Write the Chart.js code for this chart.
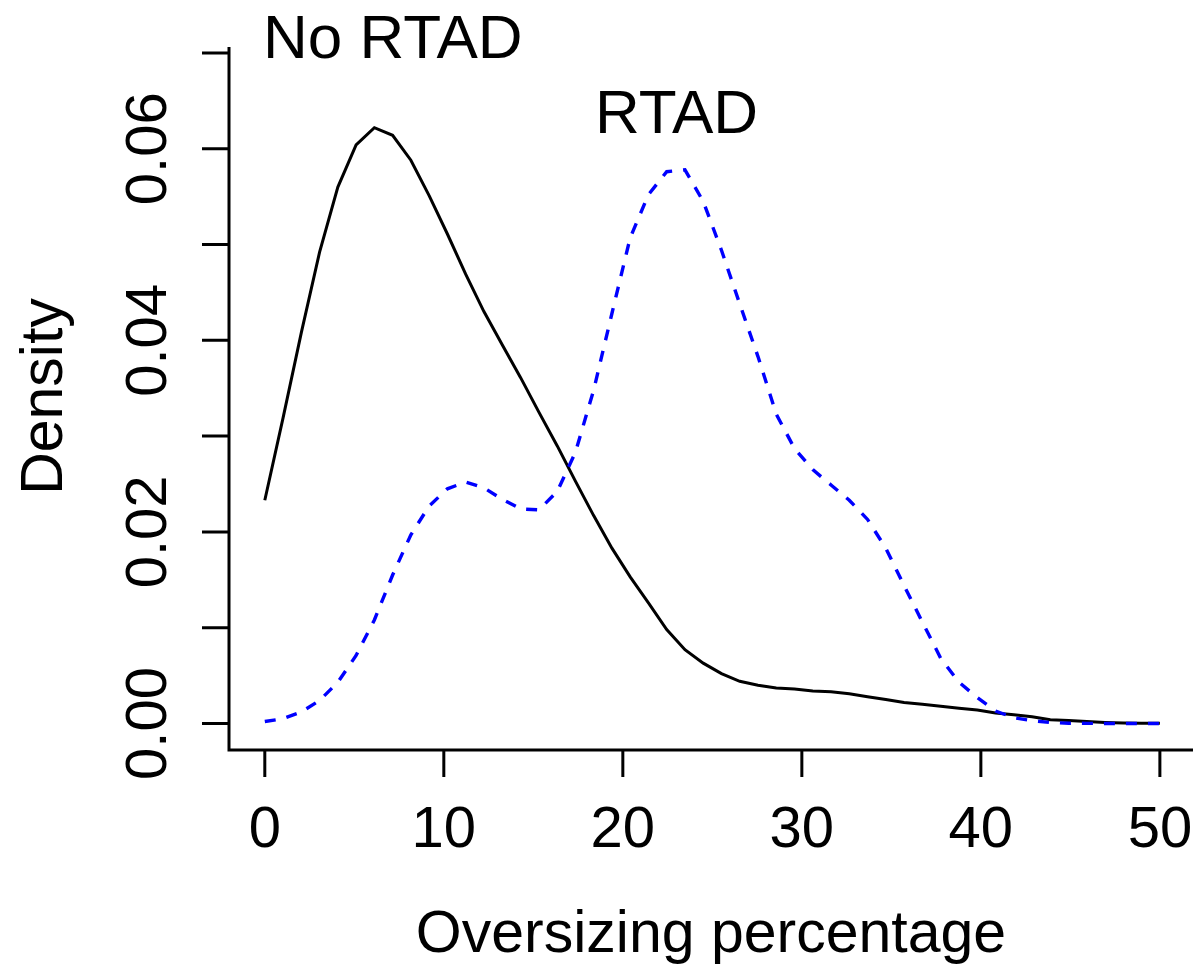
<!DOCTYPE html>
<html>
<head>
<meta charset="utf-8">
<script src="https://cdn.jsdelivr.net/npm/chart.js@4.4.1/dist/chart.umd.min.js"></script>
<style>
    html, body { margin: 0; padding: 0; background: #fff; }
    #wrap { width: 1193px; height: 966px; }
</style>
</head>
<body>
<div id="wrap"><canvas id="densityChart" width="1193" height="966"></canvas></div>
<script>
// Density grid (oversizing percentage)
const gridX = [0, 1.02, 2.04, 3.06, 4.08, 5.10, 6.12, 7.14, 8.16, 9.18,
    10.20, 11.22, 12.24, 13.27, 14.29, 15.31, 16.33, 17.35, 18.37, 19.39,
    20.41, 21.43, 22.45, 23.47, 24.49, 25.51, 26.53, 27.55, 28.57, 29.59,
    30.61, 31.63, 32.65, 33.67, 34.69, 35.71, 36.73, 37.76, 38.78, 39.80,
    40.82, 41.84, 42.86, 43.88, 44.90, 45.92, 46.94, 47.96, 48.98, 50];

const noRtadDensity = [0.0233, 0.0319, 0.0408, 0.0492, 0.0560, 0.0604, 0.0622, 0.0614, 0.0588, 0.0551,
    0.0511, 0.0469, 0.0430, 0.0395, 0.0361, 0.0325, 0.0290, 0.0253, 0.0217, 0.0183,
    0.0153, 0.0126, 0.0098, 0.0077, 0.0063, 0.0052, 0.0044, 0.0040, 0.0037, 0.0036,
    0.0034, 0.0033, 0.0031, 0.0028, 0.0025, 0.0022, 0.0020, 0.0018, 0.0016, 0.0014,
    0.0011, 0.0009, 0.0007, 0.0004, 0.0003, 0.0002, 0.0001, 0.00004, 0.00002, 0.00001];

const rtadDensity = [0.0002, 0.0005, 0.0012, 0.0024, 0.0043, 0.0071, 0.0108, 0.0155, 0.0197, 0.0227,
    0.0245, 0.0252, 0.0246, 0.0234, 0.0224, 0.0223, 0.0242, 0.0283, 0.0348, 0.0428,
    0.0507, 0.0552, 0.0576, 0.0578, 0.0545, 0.0494, 0.0438, 0.0383, 0.0323, 0.0287,
    0.0265, 0.0249, 0.0233, 0.0213, 0.0183, 0.0144, 0.0106, 0.0068, 0.0043, 0.0027,
    0.0013, 0.0006, 0.0003, 0.0001, 0.00003, 0.00001, 0, 0, 0, 0];

// Axis ticks
const xTicks = [0, 10, 20, 30, 40, 50];
const yTicks = [0, 0.01, 0.02, 0.03, 0.04, 0.05, 0.06, 0.07];
const yLabelValues = [0, 0.02, 0.04, 0.06];
const yLabels = ['0.00', '0.02', '0.04', '0.06'];

const xTitle = 'Oversizing percentage';
const yTitle = 'Density';

// Curve labels, placed in data units
const curveLabels = [
    { text: 'No RTAD', x: 7.15, y: 0.0718 },
    { text: 'RTAD', x: 23.0, y: 0.0639 }
];

const FONT = "'Liberation Sans', Arial, Helvetica, sans-serif";

const toPoints = (xs, ys) => xs.map((x, i) => ({ x: x, y: ys[i] }));

// Draws R-style axes (box on left/bottom, outward ticks, rotated y labels)
const rAxesPlugin = {
    id: 'rAxes',
    afterDraw(chart) {
        const ctx = chart.ctx;
        const area = chart.chartArea;
        const xs = chart.scales.x;
        const ys = chart.scales.y;
        const tickLen = 27;

        ctx.save();
        ctx.strokeStyle = '#000';
        ctx.fillStyle = '#000';
        ctx.lineWidth = 3;
        ctx.lineCap = 'butt';

        // L-shaped box
        ctx.beginPath();
        ctx.moveTo(area.left, area.top);
        ctx.lineTo(area.left, area.bottom);
        ctx.lineTo(area.right, area.bottom);
        ctx.stroke();

        // x ticks
        ctx.beginPath();
        xTicks.forEach(v => {
            const px = xs.getPixelForValue(v);
            ctx.moveTo(px, area.bottom);
            ctx.lineTo(px, area.bottom + tickLen);
        });
        // y ticks
        yTicks.forEach(v => {
            const py = ys.getPixelForValue(v);
            ctx.moveTo(area.left, py);
            ctx.lineTo(area.left - tickLen, py);
        });
        ctx.stroke();

        // x tick labels
        ctx.font = '58px ' + FONT;
        ctx.textAlign = 'center';
        ctx.textBaseline = 'alphabetic';
        xTicks.forEach(v => {
            ctx.fillText(String(v), xs.getPixelForValue(v), 847);
        });

        // y tick labels (rotated)
        yLabelValues.forEach((v, i) => {
            ctx.save();
            ctx.translate(166, ys.getPixelForValue(v));
            ctx.rotate(-Math.PI / 2);
            ctx.fillText(yLabels[i], 0, 0);
            ctx.restore();
        });

        // axis titles
        ctx.font = '59px ' + FONT;
        ctx.fillText(xTitle, (area.left + area.right) / 2, 952);
        ctx.save();
        ctx.translate(62, (area.top + area.bottom) / 2 - 2);
        ctx.rotate(-Math.PI / 2);
        ctx.fillText(yTitle, 0, 0);
        ctx.restore();

        // curve labels
        ctx.font = '62px ' + FONT;
        curveLabels.forEach(l => {
            ctx.fillText(l.text, xs.getPixelForValue(l.x), ys.getPixelForValue(l.y) + 22);
        });
        ctx.restore();
    }
};

new Chart(document.getElementById('densityChart'), {
    type: 'line',
    data: {
        datasets: [
            {
                label: 'RTAD',
                data: toPoints(gridX, rtadDensity),
                borderColor: '#0000FF',
                borderWidth: 3.4,
                borderDash: [11, 11],
                borderCapStyle: 'butt',
                pointRadius: 0,
                tension: 0,
                fill: false,
                order: 0
            },
            {
                label: 'No RTAD',
                data: toPoints(gridX, noRtadDensity),
                borderColor: '#000000',
                borderWidth: 3,
                pointRadius: 0,
                tension: 0,
                fill: false,
                order: 1
            }
        ]
    },
    options: {
        responsive: false,
        animation: false,
        devicePixelRatio: 1,
        layout: { padding: { left: 229, top: 47, right: 0, bottom: 216 } },
        plugins: {
            legend: { display: false },
            tooltip: { enabled: false }
        },
        scales: {
            x: { type: 'linear', display: false, min: -2.0, max: 51.85 },
            y: { type: 'linear', display: false, min: -0.00277, max: 0.07062 }
        }
    },
    plugins: [rAxesPlugin]
});
</script>
</body>
</html>
